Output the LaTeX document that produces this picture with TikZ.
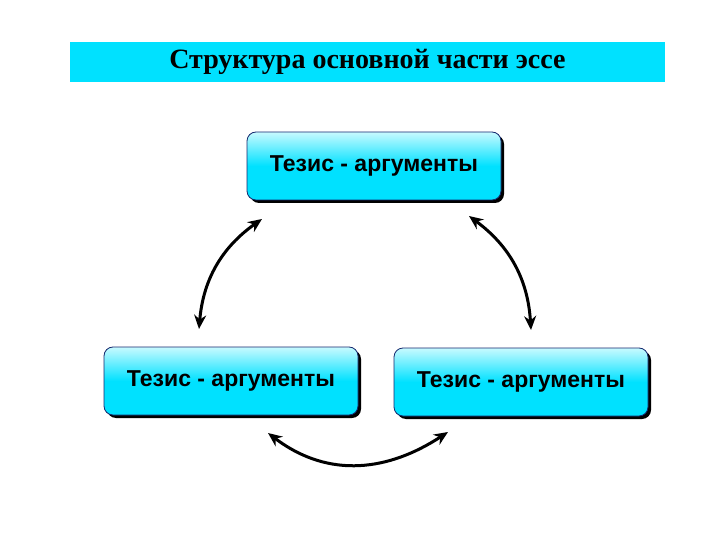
\documentclass[tikz,border=0pt]{standalone}
\usepackage{fontspec}
\setmainfont{Liberation Serif}
\newfontfamily\boxfont{Liberation Sans}
\usetikzlibrary{shadows,arrows.meta}
\definecolor{cyanA}{RGB}{0,225,255}
\definecolor{cyanL}{RGB}{200,250,255}
\definecolor{bord}{RGB}{20,40,110}
\tikzset{
  tbox/.style={draw=bord, line width=0.8pt, rounded corners=9pt, minimum width=254pt, minimum height=68pt,
    top color=cyanL, bottom color=cyanA, middle color=cyanA,
    font=\boxfont\bfseries\fontsize{23}{26}\selectfont,
    drop shadow={shadow xshift=3pt, shadow yshift=-3pt, fill=black, opacity=1}},
  arr/.style={line width=3pt, {Stealth[length=14pt,width=12pt]}-{Stealth[length=14pt,width=12pt]}}
}
\begin{document}
\begin{tikzpicture}[x=1pt,y=-1pt]
\useasboundingbox (0,0) rectangle (720,540);
\node[fill=cyanA, minimum width=595pt, minimum height=40pt, inner sep=0pt,
  font=\bfseries\fontsize{28}{32}\selectfont] (title) at (367.5,62) {Структура основной части эссе};
\node[tbox] (top) at (374,166) {Тезис - аргументы};
\node[tbox] (left) at (231,381) {Тезис - аргументы};
\node[tbox] (right) at (521,382) {Тезис - аргументы};
\coordinate (a1) at (262,219);
\coordinate (a2) at (199,329);
\coordinate (b1) at (469,216);
\coordinate (b2) at (531,330);
\coordinate (c1) at (268,433);
\coordinate (c2) at (448,432);
\draw[arr] (a1) to[bend right=25] (a2);
\draw[arr] (b1) to[bend left=25] (b2);
\draw[arr] (c1) .. controls (330,480) and (390,470) .. (c2);
\end{tikzpicture}
\end{document}
